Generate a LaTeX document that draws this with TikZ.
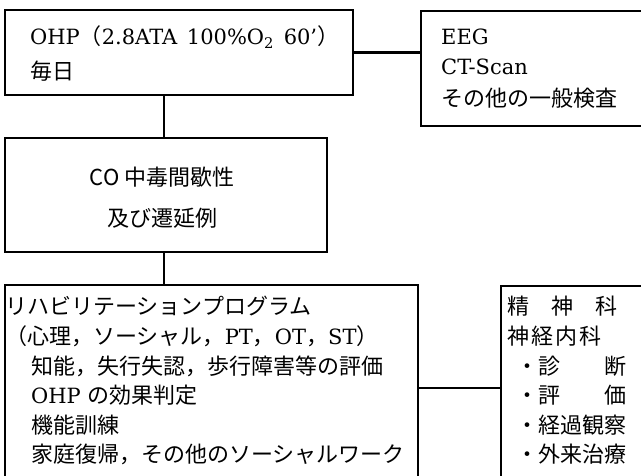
\documentclass[tikz,border=0pt]{standalone}
\usepackage{fontspec}
\setmainfont{DejaVu Serif}
\newfontfamily\jp{Noto Sans CJK JP}
\newcommand\J[1]{{\jp\fontsize{22}{29}\selectfont #1}}
\begin{document}
\begin{tikzpicture}[x=1pt,y=-1pt,
  box/.style={draw, line width=2.2pt, inner sep=0pt, anchor=north west},
  conn/.style={line width=2.2pt},
  ln/.style={anchor=base west, inner sep=0pt, font=\fontsize{21}{29}\selectfont},
  lnc/.style={anchor=base, inner sep=0pt, font=\fontsize{21}{29}\selectfont}]
\useasboundingbox (0,0) rectangle (641,476);
\clip (0,0) rectangle (641,476);
% boxes
\node[box, minimum width=348.5pt, minimum height=85pt]  (ohp)   at (3.5,9)   {};
\node[box, minimum width=260pt,   minimum height=115pt] (eeg)   at (420,10)  {};
\node[box, minimum width=322.5pt, minimum height=114pt] (co)    at (3.5,137) {};
\node[box, minimum width=413.5pt, minimum height=236pt] (rehab) at (3.5,284) {};
\node[box, minimum width=200pt,   minimum height=235pt] (dept)  at (500,285) {};
% connectors
\coordinate (vx) at (164,0);
\coordinate (hy) at (0,388);
\draw[conn] (ohp.east) -- (ohp.east -| eeg.west);
\draw[conn] (vx |- ohp.south) -- (vx |- co.north);
\draw[conn] (vx |- co.south) -- (vx |- rehab.north);
\draw[conn] (rehab.east |- hy) -- (dept.west |- hy);
% texts
\node[ln] (o1) at (30,45) {OHP\J{（}2.8ATA\hspace{3pt} 100\%O\textsubscript{2}\hspace{3pt} 60’\J{）}};
\node[ln] (o2) at (30,80) {\J{毎日}};
\node[ln] (e1) at (441,45) {EEG};
\node[ln] (e2) at (441,75) {CT-Scan};
\node[ln] (e3) at (441,107) {\J{その他の一般検査}};
\node[lnc] (c1) at (162,186) {\J{CO 中毒間歇性}};
\node[lnc] (c2) at (162,227) {\J{及び遷延例}};
\node[ln] (r1) at (5,315) {\J{リハビリテーションプログラム}};
\node[ln] (r2) at (5,344.5) {\J{（心理，ソーシャル，}PT\J{，}OT\J{，}ST\J{）}};
\node[ln] (r3) at (31,374) {\J{知能，失行失認，歩行障害等の評価}};
\node[ln] (r4) at (31,403.5) {OHP \J{の効果判定}};
\node[ln] (r5) at (31,433) {\J{機能訓練}};
\node[ln] (r6) at (31,462.5) {\J{家庭復帰，その他のソーシャルワーク}};
\node[ln] (s1) at (507,315) {\J{精　神　科}};
\node[ln] (s2) at (507,344.5) {\J{神\hspace{2pt}経\hspace{2pt}内\hspace{2pt}科}};
\node[ln] (s3) at (516,374) {\J{・診　　断}};
\node[ln] (s4) at (516,403.5) {\J{・評　　価}};
\node[ln] (s5) at (516,433) {\J{・経過観察}};
\node[ln] (s6) at (516,462.5) {\J{・外来治療}};
\end{tikzpicture}
\end{document}
